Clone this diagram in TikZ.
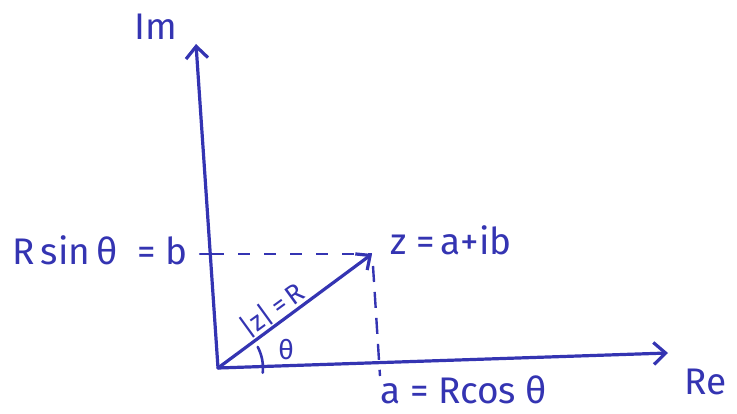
\documentclass[tikz,border=0pt]{standalone}
\usepackage{fontspec}
\setmainfont{Fira Sans}
\usetikzlibrary{arrows.meta,calc}
\definecolor{handblue}{RGB}{52,52,178}
\tikzset{
  ink/.style={draw=handblue, line width=3.2pt, line cap=round, line join=round},
  axisarrow/.style={ink, -{Straight Barb[length=12pt,width=22pt,line width=3.2pt]}},
  vecarrow/.style={ink, -{Straight Barb[length=11pt,width=20pt,line width=3.2pt]}},
  guide/.style={draw=handblue, line width=2.4pt, dash pattern=on 12pt off 14pt},
  lbl/.style={text=handblue, font=\fontsize{37}{40}\selectfont, inner sep=0pt},
  smalllbl/.style={text=handblue, font=\fontsize{27}{30}\selectfont, inner sep=0pt}
}
\begin{document}
\begin{tikzpicture}[x=1pt,y=-1pt]
\useasboundingbox (0,0) rectangle (737,414);
\coordinate (O) at (218,368);
\coordinate (ImTip) at (196,44);
\coordinate (ReTip) at (668,353);
\coordinate (Z) at (372,254);
\coordinate (Bdash) at (212,254);
\coordinate (Bt1) at (200,254);
\coordinate (Bt2) at (214,254);
\coordinate (Atop) at (373,266);
\coordinate (Abot) at (380,376);
\coordinate (ArcS) at ($(O)+(39.7,-21.1)$);
% axes
\draw[axisarrow] (O) -- (ImTip);
\draw[axisarrow] (O) -- (ReTip);
% vector
\draw[vecarrow] (O) -- (Z);
% guides
\draw[guide] (Bdash) -- (Z);
\draw[ink, line width=2.4pt] (Bt1) -- (Bt2);
\draw[guide, dash pattern=on 16pt off 10pt] (Atop) -- (Abot);
% angle arc
\draw[ink, line width=2.6pt] (ArcS) arc[start angle=-28, end angle=6, radius=45];
% labels
\node[lbl] (im) at (156,27) {Im};
\node[lbl, anchor=west] (rs) at (12,250) {R\,sin\,θ\ \ = b};
\node[lbl, anchor=west] (zl) at (390,240) {z =\,a+ib};
\node[lbl, anchor=west] (al) at (380,390) {a = Rcos θ};
\node[lbl, anchor=west] (re) at (684,382) {Re};
\node[smalllbl] (th) at (286,350) {θ};
\node[smalllbl, rotate=36] (zr) at (272,310) {|z|\,=\,R};
\end{tikzpicture}
\end{document}
